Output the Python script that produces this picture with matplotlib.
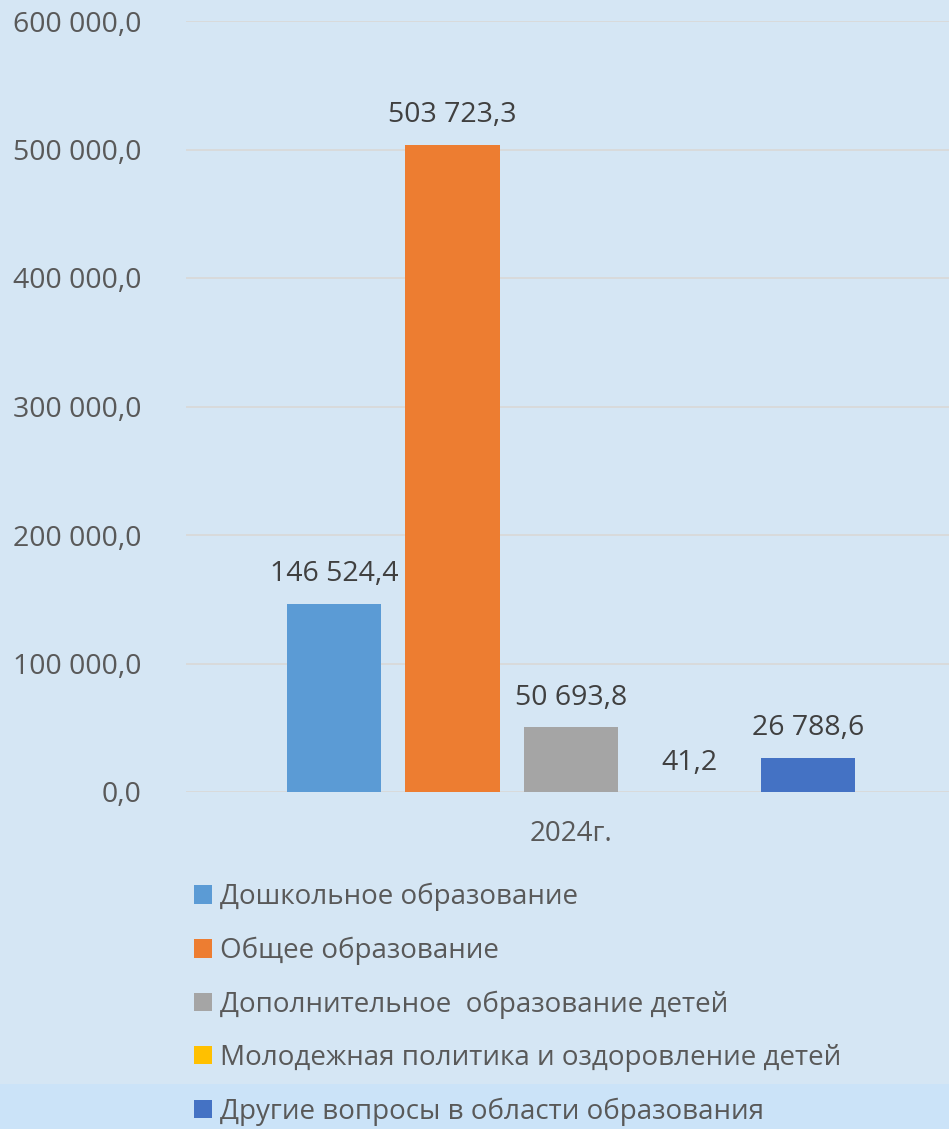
import matplotlib.pyplot as plt
from matplotlib.patches import Patch, Rectangle

# --- Данные ---
categories = ['Дошкольное образование',
              'Общее образование',
              'Дополнительное  образование детей',
              'Молодежная политика и оздоровление детей',
              'Другие вопросы в области образования']
values = [146524.4, 503723.3, 50693.8, 41.2, 26788.6]
colors = ['#5B9BD5', '#ED7D31', '#A5A5A5', '#FFC000', '#4472C4']
year_label = '2024г.'
yticks = [0, 100000, 200000, 300000, 400000, 500000, 600000]

BG = '#D5E6F4'
plt.rcParams['font.family'] = ['Open Sans', 'DejaVu Sans']


def fmt(v):
    s = f"{v:,.1f}"
    return s.replace(',', ' ').replace('.', ',')


fig = plt.figure(figsize=(9.49, 11.29), dpi=100, facecolor=BG)
# полоса внизу
fig.patches.append(Rectangle((0, 0), 1, 45 / 1129, transform=fig.transFigure,
                             facecolor='#CBE3F8', edgecolor='none', zorder=0))

ax = fig.add_axes([186 / 949, 1 - 792 / 1129, 770 / 949, (792 - 21) / 1129])
ax.set_facecolor(BG)

x = list(range(len(values)))
bars = ax.bar(x, values, width=0.8, color=colors, zorder=3)
for xi, v in zip(x, values):
    ax.annotate(fmt(v), (xi, v), xytext=(0, 11), textcoords='offset points',
                ha='center', va='bottom', fontsize=20.5, color='#404040')

ax.set_xlim(-1.25, 5.25)
ax.set_ylim(0, 600000)
ax.set_yticks(yticks)
ax.set_yticklabels([fmt(t) for t in yticks], fontsize=20.5, color='#595959')
ax.tick_params(axis='y', length=0, pad=32)
ax.set_xticks([2])
ax.set_xticklabels([year_label], fontsize=20, color='#595959')
ax.tick_params(axis='x', length=0, pad=20)
ax.grid(axis='y', color='#D9D9D9', linewidth=1.3, zorder=0)
for s in ax.spines.values():
    s.set_visible(False)

handles = [Patch(facecolor=c, edgecolor='none') for c in colors]
fig.legend(handles, categories, loc='upper left',
           bbox_to_anchor=(183 / 949, 1 - 872 / 1129), frameon=False,
           borderaxespad=0, fontsize=20, labelcolor='#595959',
           handlelength=0.65, handleheight=0.65, handletextpad=0.3,
           labelspacing=0.91)

fig.savefig('out.png', dpi=100, facecolor=BG)
